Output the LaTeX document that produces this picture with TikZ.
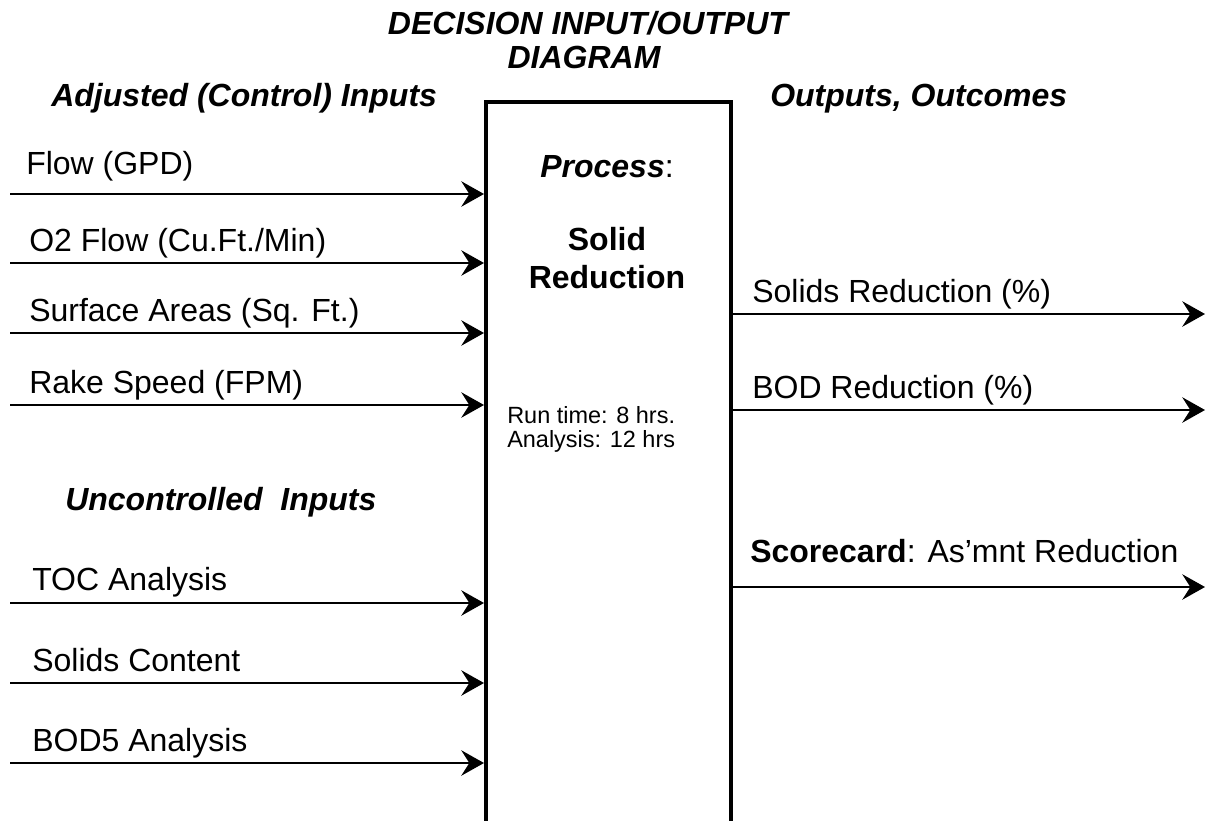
\documentclass[tikz,border=0pt]{standalone}
\usepackage{fontspec}
\setmainfont{Liberation Sans}
\usetikzlibrary{arrows.meta}
\begin{document}
\begin{tikzpicture}[x=0.75pt,y=-0.75pt,
  arr/.style={line width=2pt,-{Stealth[length=17pt,width=19pt,inset=6pt]}},
  lbl/.style={anchor=base west,inner sep=0pt,font=\fontsize{24pt}{28pt}\selectfont},
  head/.style={anchor=base,inner sep=0pt,font=\fontsize{24pt}{28pt}\selectfont\bfseries\itshape},
  small/.style={anchor=base west,inner sep=0pt,font=\fontsize{17.6pt}{22pt}\selectfont},
  procbox/.style={draw,line width=3pt,rectangle,inner sep=0pt,minimum width=183.75pt,minimum height=600pt,anchor=north west}]
\useasboundingbox (0,0) rectangle (1207,821);
\clip (0,0) rectangle (1207,821);
% box
\node[procbox] (box) at (484,100) {};
% titles
\node[head] (t1) at (588,34) {DECISION INPUT/OUTPUT};
\node[head] (t2) at (584,68) {DIAGRAM};
\node[head,anchor=base west] (hadj) at (51,106) {Adjusted (Control) Inputs};
\node[head,anchor=base west] (hout) at (770,106) {Outputs, Outcomes};
\node[head,anchor=base west] (hunc) at (65,510) {Uncontrolled\ \ Inputs};
% inside box
\node[head,font=\fontsize{24pt}{28pt}\selectfont] (proc) at (607,177) {\textbf{\textit{Process}}:};
\node[head,font=\fontsize{24pt}{28pt}\selectfont\bfseries] (sol) at (607,250) {Solid};
\node[head,font=\fontsize{24pt}{28pt}\selectfont\bfseries] (red) at (607,288) {Reduction};
\node[small] (rt) at (507,423) {Run time: 8 hrs.};
\node[small] (an) at (507,447) {Analysis: 12 hrs};
% input coordinates
\coordinate (i1) at (10,194);
\coordinate (i2) at (10,263);
\coordinate (i3) at (10,333);
\coordinate (i4) at (10,405);
\coordinate (i5) at (10,603);
\coordinate (i6) at (10,683);
\coordinate (i7) at (10,763);
\foreach \c in {i1,i2,i3,i4,i5,i6,i7}{\draw[arr] (\c) -- (\c -| box.west);}
% input labels
\node[lbl] (l1) at (26,174) {Flow (GPD)};
\node[lbl] (l2) at (29,251) {O2 Flow (Cu.Ft./Min)};
\node[lbl] (l3) at (29,321) {Surface Areas (Sq. Ft.)};
\node[lbl] (l4) at (29,393) {Rake Speed (FPM)};
\node[lbl] (l5) at (32,590) {TOC Analysis};
\node[lbl] (l6) at (32,671) {Solids Content};
\node[lbl] (l7) at (32,751) {BOD5 Analysis};
% outputs
\coordinate (o1) at (1205,314);
\coordinate (o2) at (1205,410);
\coordinate (o3) at (1205,587);
\foreach \c in {o1,o2,o3}{\draw[arr] (\c -| box.east) -- (\c);}
\node[lbl] (r1) at (752,302) {Solids Reduction (\%)};
\node[lbl] (r2) at (752,398) {BOD Reduction (\%)};
\node[lbl] (r3) at (750,562) {\textbf{Scorecard}: As’mnt Reduction};
\end{tikzpicture}
\end{document}
